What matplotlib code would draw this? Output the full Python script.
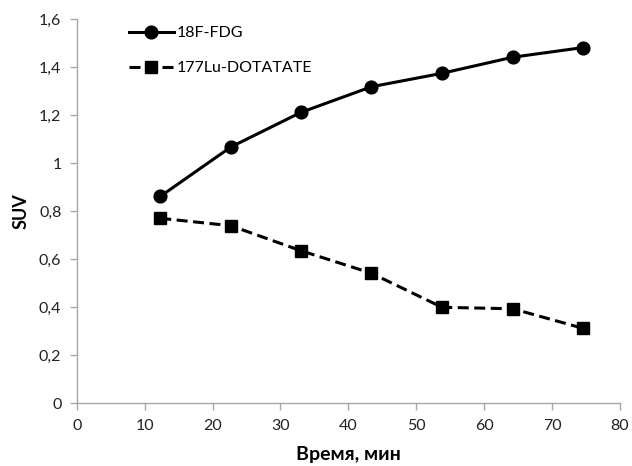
import matplotlib
matplotlib.use('Agg')
import matplotlib.pyplot as plt
from matplotlib.ticker import FuncFormatter

# time points, min
time_min = [12.3, 22.7, 33.0, 43.4, 53.8, 64.2, 74.5]
# SUV values
suv_fdg = [0.862, 1.068, 1.212, 1.319, 1.375, 1.442, 1.482]
suv_lu = [0.771, 0.740, 0.636, 0.542, 0.400, 0.394, 0.313]

x_ticks = [0, 10, 20, 30, 40, 50, 60, 70, 80]
y_ticks = [0, 0.2, 0.4, 0.6, 0.8, 1.0, 1.2, 1.4, 1.6]

plt.rcParams['font.family'] = ['Lato', 'DejaVu Sans']
axis_col = '#a6a6a6'


def comma_fmt(v, pos):
    # Excel style: 0,2 instead of 0.2, no trailing zeros
    s = ('%.1f' % v).rstrip('0').rstrip('.')
    return s.replace('.', ',')


fig = plt.figure(figsize=(6.32, 4.66), dpi=100)
ax = fig.add_axes([0.1214, 0.1345, 0.8596, 0.8241])

ax.plot(time_min, suv_fdg, c='black', lw=2.2, marker='o', ms=9.2, label='18F-FDG')
ax.plot(time_min, suv_lu, c='black', lw=2.2, ls=(0, (3.6, 1.8)), marker='s', ms=8.5,
        label='177Lu-DOTATATE')

ax.set_xlim(0, 80)
ax.set_ylim(0, 1.6)
ax.set_xticks(x_ticks)
ax.set_yticks(y_ticks)
ax.yaxis.set_major_formatter(FuncFormatter(comma_fmt))

for side in ['top', 'right']:
    ax.spines[side].set_visible(False)
for side in ['left', 'bottom']:
    ax.spines[side].set_color(axis_col)
    ax.spines[side].set_linewidth(1.0)
ax.tick_params(axis='both', direction='out', length=5, width=1.0, color=axis_col,
               labelsize=11.5, labelcolor='#222222', pad=6)

ax.set_xlabel('Время, мин', fontsize=14, fontweight='bold', labelpad=10)
ax.set_ylabel('SUV', fontsize=13, fontweight='bold', labelpad=7)

ax.legend(loc='upper left', bbox_to_anchor=(0.07, 1.02), frameon=False, fontsize=11.5,
          handlelength=2.8, handletextpad=0.15, labelspacing=1.3)

fig.savefig('out.png', dpi=100)
